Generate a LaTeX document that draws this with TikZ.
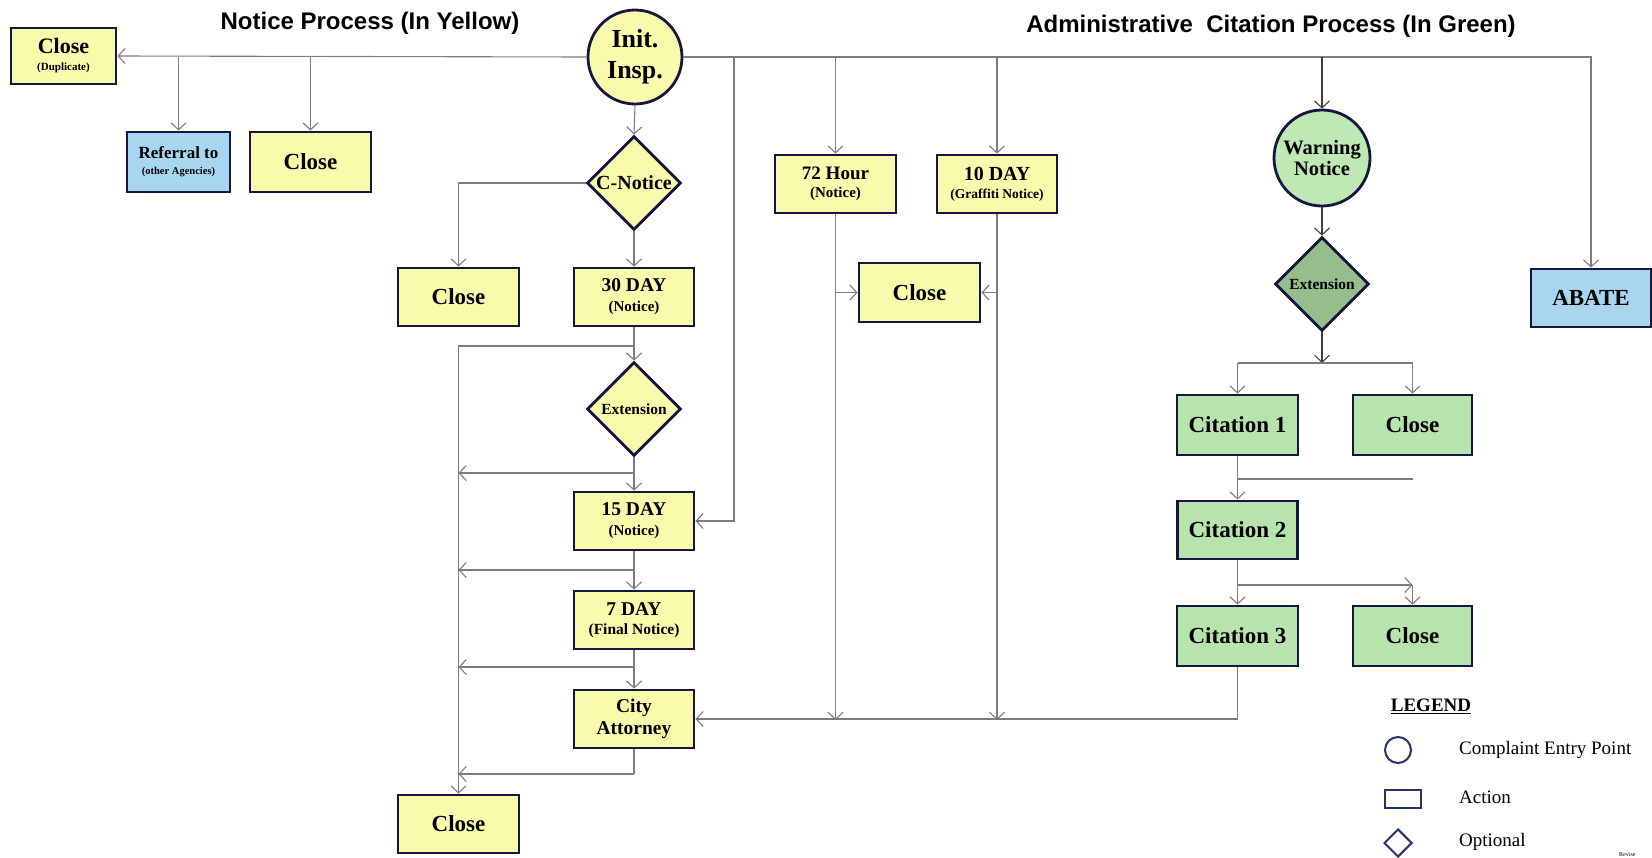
\documentclass[tikz,border=0pt]{standalone}
\usepackage{fontspec}
\setmainfont{Liberation Serif}
\newfontfamily\titlefont{Liberation Sans}
\usetikzlibrary{shapes.geometric,arrows.meta}
\definecolor{yfill}{RGB}{250,250,172}
\definecolor{bfill}{RGB}{168,214,240}
\definecolor{gfill}{RGB}{182,228,172}
\definecolor{gdark}{RGB}{150,190,140}
\definecolor{wfill}{RGB}{190,232,180}
\definecolor{navy}{RGB}{20,24,64}
\definecolor{lnavy}{RGB}{40,50,110}
\definecolor{lgray}{RGB}{125,125,125}
\newcommand\fsz[2]{\fontsize{#1}{#2}\selectfont}
\begin{document}
\begin{tikzpicture}[x=1pt,y=-1pt,
  conn/.style={draw=lgray, line width=1.1pt},
  arr/.style={conn, -{Straight Barb[length=7pt,width=15pt]}},
  box/.style={draw=navy, line width=2.8pt, fill=yfill, align=center, inner sep=0pt,
    minimum width=120pt, minimum height=58pt, font=\bfseries},
  gbox/.style={box, fill=gfill, minimum height=60pt, font=\bfseries\fsz{23}{26}},
  rnd/.style={draw=navy, line width=2.8pt, circle, inner sep=0pt, align=center, font=\bfseries},
  dia/.style={draw=navy, line width=2.8pt, diamond, inner sep=0pt, minimum width=94pt, minimum height=94pt},
  lbl/.style={font=\bfseries\fsz{15.5}{17}, inner sep=0pt},
  ttl/.style={font=\titlefont\bfseries\fsz{24}{28}},
  leg/.style={font=\fsz{19}{22}, anchor=west, inner sep=0pt}
]
\fill[white] (0,0) rectangle (1652,857);
\useasboundingbox (0,0) rectangle (1652,857);

% titles
\node[ttl] (t1) at (370,23) {Notice Process (In Yellow)};
\node[ttl] (t2) at (1271,26) {Administrative\ \ Citation Process (In Green)};

% notice process nodes
\node[box, minimum width=105pt, minimum height=56pt, font=\bfseries\fsz{22}{17}] (dup) at (63.5,56)
  {Close\\{\fsz{11}{12}(Duplicate)}};
\node[box, fill=bfill, minimum width=103pt, minimum height=60pt, font=\bfseries\fsz{17}{16}] (ref) at (178.5,162)
  {Referral to\\{\fsz{10.5}{11}(other Agencies)}};
\node[box, minimum width=121pt, minimum height=60pt, font=\bfseries\fsz{23}{26}] (closeA) at (310.5,162) {Close};
\node[rnd, fill=yfill, minimum size=94pt, font=\bfseries\fsz{26}{31}] (init) at (635,57) {Init.\\Insp.};
\node[dia, fill=yfill, label={[lbl, font=\bfseries\fsz{20}{22}]center:C-Notice}] (cnot) at (634,183) {};
\node[box, minimum width=121pt, font=\bfseries\fsz{23}{26}] (closeB) at (458.5,297) {Close};
\node[box, font=\bfseries\fsz{19.5}{20}] (d30) at (634,297) {30 DAY\\{\fsz{15}{16}(Notice)}};
\node[dia, fill=yfill, label={[lbl]center:Extension}] (ext1) at (634,409) {};
\node[box, font=\bfseries\fsz{19.5}{20}] (d15) at (634,521) {15 DAY\\{\fsz{15}{16}(Notice)}};
\node[box, font=\bfseries\fsz{19.5}{19}] (d7) at (634,620) {7 DAY\\{\fsz{15.5}{16}(Final Notice)}};
\node[box, font=\bfseries\fsz{19.5}{22}] (city) at (634,719) {City\\Attorney};
\node[box, minimum width=121pt, font=\bfseries\fsz{23}{26}] (closeC) at (458.5,824) {Close};

% middle nodes
\node[box, minimum width=121pt, font=\bfseries\fsz{19}{18}] (h72) at (835.5,184) {72 Hour\\{\fsz{15}{16}(Notice)}};
\node[box, font=\bfseries\fsz{20}{18}] (d10) at (997,184) {10 DAY\\{\fsz{13.5}{15}(Graffiti Notice)}};
\node[box, minimum width=121pt, minimum height=59pt, font=\bfseries\fsz{23}{26}] (closeM) at (919.5,292.5) {Close};

% green process nodes
\node[rnd, fill=wfill, minimum size=96pt, font=\bfseries\fsz{20.5}{21}] (warn) at (1322,158) {Warning\\Notice};
\node[dia, fill=gdark, label={[lbl]center:Extension}] (ext2) at (1322,284) {};
\node[box, fill=bfill, font=\bfseries\fsz{23}{26}] (abate) at (1591,298) {ABATE};
\node[gbox, minimum width=121pt] (cit1) at (1237.5,425) {Citation 1};
\node[gbox, minimum width=119pt] (closeG1) at (1412.5,425) {Close};
\node[gbox, minimum height=58pt] (cit2) at (1237.5,530) {Citation 2};
\node[gbox, minimum width=121pt] (cit3) at (1237.5,636) {Citation 3};
\node[gbox, minimum width=119pt] (closeG2) at (1412.5,636) {Close};

% junction coordinates
\coordinate (t734) at (734,57);
\coordinate (j30) at (634,346);
\coordinate (ltop) at (458.5,346);
\coordinate (j1) at (634,473);
\coordinate (j2) at (634,570);
\coordinate (j3) at (634,667);
\coordinate (jl) at (458.5,774);
\coordinate (bl) at (1237.5,720);
\coordinate (g1) at (1322,363);
\coordinate (g2) at (1237.5,479);
\coordinate (g3) at (1237.5,585);

% top trunk
\draw[arr] (init.west) -- (dup.east);
\draw[arr] (ref.north |- init.west) -- (ref.north);
\draw[arr] (closeA.north |- init.west) -- (closeA.north);
\draw[arr] (init.east) -| (abate.north);
\draw[arr] (h72.north |- init.east) -- (h72.north);
\draw[arr] (d10.north |- init.east) -- (d10.north);
\draw[arr, draw=black!75] (warn.north |- init.east) -- (warn.north);
\draw[arr] (t734) |- (d15.east);

% notice column
\draw[arr] (init.south) -- (cnot.north);
\draw[arr] (cnot.west) -| (closeB.north);
\draw[arr] (cnot.south) -- (d30.north);
\draw[conn] (d30.south) -- (j30);
\draw[arr] (j30) -- (ext1.north);
\draw[conn] (j30) -- (ltop) -- (jl);
\draw[arr] (jl) -- (closeC.north);
\draw[arr] (ext1.south) -- (d15.north);
\draw[arr] (j1) -- (ltop |- j1);
\draw[arr] (d15.south) -- (d7.north);
\draw[arr] (j2) -- (ltop |- j2);
\draw[arr] (d7.south) -- (city.north);
\draw[arr] (j3) -- (ltop |- j3);
\draw[conn] (city.south) -- (city.south |- jl);
\draw[arr] (city.south |- jl) -- (jl);

% middle column
\draw[arr] (h72.south) -- (h72.south |- bl);
\draw[arr] (d10.south) -- (d10.south |- bl);
\draw[arr] (h72.south |- closeM.west) -- (closeM.west);
\draw[arr] (d10.south |- closeM.east) -- (closeM.east);
\draw[arr] (cit3.south) |- (city.east);

% green column
\draw[arr, draw=black!75] (warn.south) -- (ext2.north);
\draw[arr, draw=black!75] (ext2.south) -- (g1);
\draw[conn] (cit1.north |- g1) -- (closeG1.north |- g1);
\draw[arr] (cit1.north |- g1) -- (cit1.north);
\draw[arr] (closeG1.north |- g1) -- (closeG1.north);
\draw[conn] (cit1.south) -- (g2) -- (closeG1.south |- g2);
\draw[arr] (g2) -- (cit2.north);
\draw[conn] (cit2.south) -- (g3);
\draw[arr] (g3) -- (closeG2.north |- g3);
\draw[arr] (closeG2.north |- g3) -- (closeG2.north);
\draw[arr] (g3) -- (cit3.north);

% legend
\node[font=\bfseries\fsz{19}{22}] (legt) at (1431,706) {\underline{LEGEND}};
\node[draw=lnavy, line width=2pt, circle, minimum size=26pt, inner sep=0pt] (lcirc) at (1398,750) {};
\node[draw=lnavy, line width=2pt, rectangle, minimum width=36pt, minimum height=18pt, inner sep=0pt] (lrect) at (1403,799) {};
\node[draw=lnavy, line width=2pt, diamond, minimum width=28pt, minimum height=28pt, inner sep=0pt] (ldia) at (1398,843) {};
\node[leg] (lt1) at (1459,750) {Complaint Entry Point};
\node[leg] (lt2) at (1459,797) {Action};
\node[leg] (lt3) at (1459,842) {Optional};
\node[anchor=south west, inner sep=0pt, font=\fsz{6}{6}] (rev) at (1619,857) {Revise};
\end{tikzpicture}
\end{document}
